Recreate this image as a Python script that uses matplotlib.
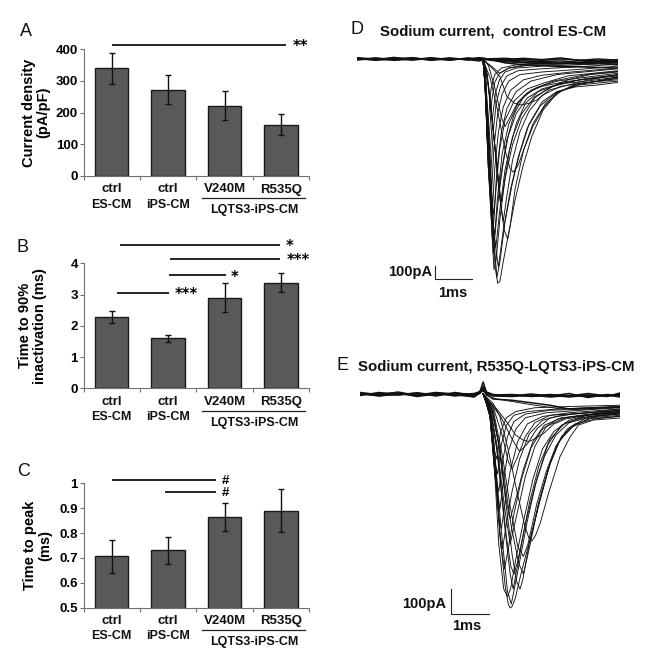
import matplotlib
matplotlib.use('Agg')
import matplotlib.pyplot as plt
import numpy as np

plt.rcParams['font.family'] = ['Liberation Sans', 'DejaVu Sans']

W, H = 656, 665

# bar panels
groups = ['ctrl', 'ctrl', 'V240M', 'R535Q']
subgroups = ['ES-CM', 'iPS-CM']
group_title = 'LQTS3-iPS-CM'

density = [340, 273, 222, 162]
density_err = [49, 47, 46, 33]
density_ticks = [0, 100, 200, 300, 400]
density_sig = [(0, 3.09, 414.6, '**', 3.34)]

inact = [2.28, 1.6, 2.9, 3.38]
inact_err = [0.2, 0.12, 0.46, 0.3]
inact_ticks = [0, 1, 2, 3, 4]
inact_sig = [(0.15, 2.98, 4.59, '*', 3.16),
             (1.03, 2.98, 4.14, '***', 3.3),
             (1.02, 2.03, 3.62, '*', 2.17),
             (0.09, 1.02, 3.06, '***', 1.32)]

peak = [0.707, 0.73, 0.863, 0.89]
peak_err = [0.066, 0.056, 0.056, 0.087]
peak_ticks = [0.5, 0.6, 0.7, 0.8, 0.9, 1]
peak_sig = [(0, 1.85, 1.012, '#', 2.02),
            (0.94, 1.85, 0.965, '#', 2.02)]

d_base_t = [0, 0.5, 1, 1.5, 2, 2.5, 3, 3.3, 3.45, 4, 4.5, 5, 5.5, 6, 6.5, 7.05]
d_base = [[10, -5, 12, -8, 5, -10, 8, -5, 0, 5, -5, -10, 0, -8, -15, -5],
          [-8, 5, -10, 6, -5, 8, -8, 6, 0, -10, -15, -20, -15, -25, -15, -20],
          [4, -10, 0, 10, -10, 2, -5, -15, -5, -20, -30, -35, -30, -40, -35, -45],
          [-4, 8, -5, -6, 10, -6, 4, 0, 0, -5, 5, -5, 8, -12, 0, -10],
          [0, -4, 6, 2, -6, 4, 0, 10, 5, -30, -45, -50, -60, -60, -65, -70],
          [6, 0, -6, 4, 0, -4, 2, 4, 0, -15, -25, -25, -35, -30, -30, -30]]
d_sweeps = [
    [(3.40, 0), (3.46, -100), (3.55, -600), (3.65, -1200), (3.73, -1600), (3.80, -1725), (3.86, -1710), (3.95, -1560), (4.07, -1380), (4.27, -1085), (4.48, -828), (4.72, -597), (5.03, -392), (5.40, -264), (5.84, -200), (6.38, -175), (7.05, -146)],
    [(3.40, 0), (3.48, -150), (3.58, -700), (3.70, -1400), (3.78, -1680), (3.86, -1560), (4.0, -1250), (4.2, -950), (4.4, -720), (4.65, -500), (5.0, -330), (5.4, -250), (5.9, -215), (6.5, -200), (7.05, -180)],
    [(3.40, 0), (3.47, -150), (3.56, -700), (3.64, -1300), (3.70, -1620), (3.76, -1540), (3.86, -1230), (4.0, -920), (4.2, -660), (4.45, -460), (4.8, -300), (5.2, -220), (5.7, -160), (6.3, -120), (7.05, -100)],
    [(3.40, 0), (3.46, -200), (3.55, -800), (3.68, -1500), (3.76, -1250), (3.88, -900), (4.05, -620), (4.3, -420), (4.6, -300), (5.0, -230), (5.5, -190), (6.2, -150), (7.05, -120)],
    [(3.40, 0), (3.46, -200), (3.55, -850), (3.66, -1400), (3.74, -1050), (3.85, -700), (4.0, -470), (4.25, -320), (4.6, -230), (5.1, -180), (5.7, -130), (7.05, -90)],
    [(3.40, 0), (3.46, -200), (3.55, -850), (3.64, -1250), (3.72, -850), (3.82, -560), (3.95, -370), (4.15, -240), (4.5, -160), (5.0, -125), (5.8, -100), (7.05, -70)],
    [(3.40, 0), (3.46, -200), (3.54, -800), (3.62, -1100), (3.70, -680), (3.8, -420), (3.92, -270), (4.1, -170), (4.4, -120), (5.0, -100), (6.0, -80), (7.05, -55)],
    [(3.40, 0), (3.46, -200), (3.53, -700), (3.60, -950), (3.68, -560), (3.76, -340), (3.88, -210), (4.05, -130), (4.35, -90), (5.0, -75), (6.0, -60), (7.05, -40)],
    [(3.40, 0), (3.45, -180), (3.52, -600), (3.58, -800), (3.66, -450), (3.74, -260), (3.85, -160), (4.0, -100), (4.3, -70), (5.0, -55), (6.0, -45), (7.05, -30)],
    [(3.40, 0), (3.45, -170), (3.51, -500), (3.56, -650), (3.64, -320), (3.72, -180), (3.85, -110), (4.1, -70), (4.6, -50), (5.5, -40), (7.05, -25)],
    [(3.40, 0), (3.45, -150), (3.50, -400), (3.54, -500), (3.62, -230), (3.72, -120), (3.9, -70), (4.3, -45), (5.0, -35), (7.05, -15)],
    [(3.40, 0), (3.6, -150), (3.8, -400), (4.0, -700), (4.13, -840), (4.22, -870), (4.35, -820), (4.5, -700), (4.75, -520), (5.05, -370), (5.4, -260), (5.9, -200), (6.5, -170), (7.05, -135)],
    [(3.40, 0), (3.55, -40), (3.86, -136), (4.05, -290), (4.25, -340), (4.45, -354), (4.65, -340), (4.86, -315), (5.2, -238), (5.65, -205), (6.2, -165), (7.05, -120)],
    [(3.40, 0), (3.55, -200), (3.7, -600), (3.85, -1050), (3.98, -1320), (4.07, -1385), (4.14, -1280), (4.27, -1000), (4.5, -700), (4.75, -500), (5.1, -340), (5.5, -250), (6.0, -190), (7.05, -150)],
    [(3.40, 0), (3.5, -100), (3.65, -450), (3.8, -900), (3.9, -1100), (3.98, -950), (4.12, -700), (4.3, -500), (4.55, -340), (4.9, -250), (5.5, -190), (6.2, -170), (7.05, -140)],
    [(3.40, 0), (3.5, -100), (3.65, -480), (3.85, -1000), (3.95, -800), (4.1, -570), (4.25, -420), (4.5, -290), (4.85, -220), (5.4, -170), (6.2, -140), (7.05, -110)],
    [(3.40, 0), (3.52, -120), (3.7, -600), (3.85, -1050), (3.95, -1250), (4.05, -1050), (4.2, -780), (4.4, -560), (4.65, -400), (5.0, -280), (5.5, -210), (6.2, -180), (7.05, -160)],
    [(3.40, 0), (3.5, -30), (3.65, -60), (3.85, -110), (4.1, -70), (4.6, -40), (7.05, -20)],
    [(3.40, 0), (3.47, -150), (3.58, -750), (3.68, -1300), (3.75, -1450), (3.85, -1180), (4.0, -850), (4.2, -600), (4.45, -420), (4.8, -290), (5.3, -210), (6.0, -160), (7.05, -130)],
    [(3.40, 0), (3.47, -120), (3.58, -700), (3.70, -1350), (3.82, -1600), (3.95, -1320), (4.15, -1000), (4.35, -760), (4.6, -530), (4.95, -360), (5.4, -255), (6.0, -200), (7.05, -170)],
    [(3.40, 0), (3.46, -180), (3.56, -800), (3.66, -1250), (3.72, -1350), (3.8, -1050), (3.92, -730), (4.1, -500), (4.35, -340), (4.7, -240), (5.3, -170), (6.2, -120), (7.05, -95)],
    [(3.40, 0), (3.46, -180), (3.56, -750), (3.65, -1100), (3.70, -1200), (3.78, -850), (3.9, -560), (4.05, -380), (4.3, -250), (4.7, -170), (5.4, -120), (7.05, -75)],
    [(3.40, 0), (3.55, -50), (3.75, -250), (3.9, -450), (4.0, -520), (4.15, -440), (4.35, -330), (4.6, -260), (5.0, -210), (5.6, -175), (6.4, -150), (7.05, -125)],
]

e_base_t = [0, 0.5, 1, 1.5, 2, 2.5, 3, 3.15, 3.24, 3.33, 3.5, 4, 4.5, 5, 5.5, 6, 6.5, 6.84]
e_base = [[6, -4, 8, -6, 4, -8, 2, 8, 20, 5, -8, -10, -4, -12, -6, -10, -4, -12],
          [-6, 6, -4, 4, -8, 6, -6, 6, 48, 4, -4, -2, -10, -4, -12, -4, -10, 4],
          [2, -8, 0, -4, 6, 0, -12, 4, 30, 8, -2, -8, 0, -8, 2, -14, -2, -6],
          [-2, 2, 4, -10, 0, -4, -10, 12, 15, 0, -6, -4, -8, -2, -8, 2, -8, -2],
          [0, -6, -2, 4, -4, 2, 0, 2, 25, -2, -20, -25, -35, -45, -60, -58, -55, -52],
          [3, 0, -3, 2, 0, -2, -4, 5, 12, 2, -4, -6, -6, -6, -6, -6, -6, -6]]
e_sweeps = [
    [(3.24, 0), (3.30, -30), (3.42, -60), (3.55, -240), (3.68, -560), (3.82, -770), (3.90, -840), (3.95, -856), (4.00, -850), (4.08, -820), (4.25, -710), (4.47, -585), (4.74, -424), (5.0, -277), (5.26, -184), (5.6, -131), (6.14, -90), (6.84, -76)],
    [(3.24, 0), (3.30, -20), (3.4, -60), (3.52, -250), (3.65, -600), (3.78, -780), (3.88, -810), (3.96, -780), (4.1, -660), (4.3, -510), (4.55, -340), (4.8, -220), (5.1, -150), (5.5, -105), (6.1, -80), (6.84, -65)],
    [(3.24, 0), (3.45, -50), (3.65, -200), (3.85, -450), (4.0, -640), (4.12, -750), (4.21, -780), (4.28, -745), (4.45, -600), (4.7, -435), (4.95, -300), (5.2, -200), (5.55, -130), (6.1, -95), (6.84, -85)],
    [(3.24, 0), (3.5, -37), (3.68, -90), (3.9, -224), (4.12, -384), (4.34, -530), (4.44, -575), (4.52, -588), (4.62, -565), (4.74, -517), (4.96, -397), (5.26, -251), (5.53, -171), (5.75, -124), (6.14, -104), (6.84, -96)],
    [(3.24, 0), (3.4, -30), (3.6, -60), (3.85, -110), (4.1, -165), (4.3, -185), (4.43, -190), (4.6, -180), (4.85, -155), (5.1, -120), (5.4, -100), (6.0, -85), (6.84, -75)],
    [(3.24, 0), (3.4, -10), (3.6, -20), (4.0, -30), (4.6, -45), (5.3, -60), (6.0, -55), (6.84, -50)],
    [(3.24, 0), (3.30, -25), (3.42, -70), (3.55, -280), (3.7, -600), (3.8, -700), (3.9, -620), (4.05, -480), (4.25, -340), (4.5, -215), (4.8, -140), (5.2, -100), (5.8, -85), (6.84, -70)],
    [(3.24, 0), (3.30, -25), (3.42, -70), (3.55, -300), (3.68, -560), (3.75, -620), (3.85, -520), (4.0, -390), (4.2, -260), (4.45, -160), (4.8, -105), (5.3, -85), (6.0, -75), (6.84, -65)],
    [(3.24, 0), (3.30, -25), (3.42, -80), (3.55, -320), (3.66, -500), (3.72, -540), (3.82, -430), (3.95, -310), (4.15, -190), (4.4, -120), (4.8, -90), (5.5, -75), (6.84, -60)],
    [(3.24, 0), (3.30, -25), (3.42, -90), (3.55, -330), (3.68, -460), (3.78, -340), (3.9, -230), (4.1, -140), (4.35, -95), (4.9, -75), (5.8, -65), (6.84, -55)],
    [(3.24, 0), (3.30, -25), (3.42, -90), (3.55, -320), (3.65, -390), (3.75, -270), (3.88, -170), (4.05, -110), (4.35, -80), (5.0, -65), (6.0, -60), (6.84, -52)],
    [(3.24, 0), (3.30, -25), (3.42, -90), (3.52, -260), (3.62, -320), (3.72, -200), (3.85, -125), (4.05, -85), (4.4, -70), (5.2, -60), (6.84, -50)],
    [(3.24, 0), (3.30, -25), (3.42, -90), (3.52, -220), (3.6, -260), (3.7, -150), (3.85, -95), (4.1, -70), (4.6, -55), (5.5, -50), (6.84, -45)],
    [(3.24, 0), (3.5, -60), (3.75, -250), (3.95, -450), (4.15, -610), (4.3, -650), (4.42, -600), (4.65, -440), (4.9, -310), (5.15, -210), (5.45, -140), (5.9, -100), (6.84, -90)],
    [(3.24, 0), (3.45, -60), (3.65, -280), (3.85, -570), (3.97, -690), (4.05, -720), (4.15, -670), (4.35, -520), (4.6, -370), (4.85, -250), (5.15, -165), (5.5, -115), (6.1, -90), (6.84, -80)],
    [(3.24, 0), (3.45, -50), (3.65, -200), (3.85, -430), (3.95, -500), (4.1, -420), (4.3, -300), (4.55, -190), (4.85, -125), (5.3, -95), (6.0, -85), (6.84, -72)],
    [(3.24, 0), (3.5, -50), (3.75, -170), (3.9, -270), (4.0, -300), (4.15, -250), (4.35, -170), (4.6, -115), (5.0, -85), (6.0, -75), (6.84, -60)],
    [(3.24, 0), (3.42, -60), (3.6, -220), (3.8, -520), (3.95, -720), (4.03, -780), (4.2, -640), (4.45, -440), (4.7, -290), (5.0, -180), (5.4, -115), (6.0, -90), (6.84, -75)],
    [(3.24, 0), (3.42, -60), (3.6, -200), (3.8, -450), (3.95, -600), (4.1, -500), (4.35, -330), (4.6, -210), (4.9, -130), (5.4, -95), (6.0, -82), (6.84, -70)],
    [(3.24, 0), (3.36, -40), (3.5, -150), (3.7, -520), (3.88, -790), (3.98, -840), (4.15, -710), (4.4, -510), (4.65, -340), (4.95, -200), (5.3, -125), (5.8, -95), (6.84, -80)],
    [(3.24, 0), (3.5, -70), (3.75, -290), (3.98, -530), (4.18, -680), (4.3, -720), (4.45, -620), (4.7, -440), (5.0, -280), (5.3, -170), (5.65, -120), (6.2, -100), (6.84, -88)],
    [(3.24, 0), (3.45, -40), (3.7, -90), (4.0, -180), (4.2, -230), (4.4, -200), (4.65, -140), (5.0, -95), (5.6, -80), (6.84, -66)],
]


def px_axes(fig, left, top, right, bottom):
    return fig.add_axes([left / W, 1 - bottom / H, (right - left) / W, (bottom - top) / H])


def px_text(fig, x, y, s, **kw):
    fig.text(x / W, 1 - y / H, s, va='center', **kw)


def bar_panel(fig, box, values, errs, ticks, ylim, ylabel, sig, label_x):
    ax = px_axes(fig, *box)
    x = np.arange(len(values))
    ax.bar(x, values, 0.59, color='#595959', edgecolor='#1a1a1a', linewidth=1.0,
           yerr=errs, error_kw=dict(ecolor='#111111', elinewidth=1.0, capsize=2, capthick=1.0, clip_on=False))
    ax.set_xlim(-0.5, 3.5)
    ax.set_ylim(*ylim)
    ax.spines['top'].set_visible(False)
    ax.spines['right'].set_visible(False)
    ax.spines['left'].set_color('#707070')
    ax.spines['bottom'].set_color('#707070')
    ax.set_xticks([-0.5, 0.5, 1.5, 2.5, 3.5])
    ax.set_xticklabels([])
    ax.set_yticks(ticks)
    ax.set_yticklabels([f'{t:g}' for t in ticks], fontsize=9.5, fontweight='bold')
    ax.tick_params(axis='both', length=3, width=0.8, color='#707070', pad=1)
    ax.set_ylabel(ylabel, fontsize=10.5, fontweight='bold', linespacing=1.05, multialignment='center')
    ax.yaxis.set_label_coords(label_x, 0.5)

    tr = ax.get_xaxis_transform()
    for i, g in enumerate(groups):
        ax.annotate(g, (i, 0), xycoords=tr, xytext=(0, -13.5), textcoords='offset pixels',
                    ha='center', va='center', fontsize=9.5, fontweight='bold', color='#111111')
    for i, g in enumerate(subgroups):
        ax.annotate(g, (i, 0), xycoords=tr, xytext=(0, -28.5), textcoords='offset pixels',
                    ha='center', va='center', fontsize=9, fontweight='bold', color='#111111')
    ax.annotate(group_title, (2.52, 0), xycoords=tr, xytext=(0, -34.5), textcoords='offset pixels',
                ha='center', va='center', fontsize=9, fontweight='bold', color='#111111')
    height = box[3] - box[1]
    ax.plot([1.6, 3.43], [-22.2 / height] * 2, transform=tr, color='#222222', lw=0.9, clip_on=False)

    for x0, x1, y, mark, mark_x in sig:
        ax.plot([x0, x1], [y, y], color='black', lw=1.2, clip_on=False, solid_capstyle='butt')
        if mark == '#':
            ax.annotate(mark, (mark_x, y), ha='center', va='center', xytext=(0, -1), textcoords='offset pixels',
                        fontsize=9.5, fontweight='bold', annotation_clip=False)
        else:
            ax.annotate(mark, (mark_x, y), ha='center', va='center', xytext=(0, -2), textcoords='offset pixels',
                        fontsize=10.5, fontweight='bold', family='DejaVu Sans', annotation_clip=False)
    return ax


def trace_panel(fig, box, tlim, ilim, base_t, base, sweeps, bar_t, bar_i):
    ax = px_axes(fig, *box)
    ax.axis('off')
    ax.set_xlim(*tlim)
    ax.set_ylim(*ilim)
    for b in base:
        ax.plot(base_t, b, color='#111111', lw=1.1)
    for s in sweeps:
        t, i = zip(*s)
        ax.plot(t, i, color='#111111', lw=0.65)
    # scale bar, 100 pA and 1 ms
    ax.plot([bar_t, bar_t, bar_t + 1], [bar_i + 100, bar_i, bar_i], color='#222222', lw=0.8, clip_on=False)
    return ax


fig = plt.figure(figsize=(W / 100, H / 100), dpi=100)

bar_panel(fig, (83.5, 49.3, 309.1, 176), density, density_err, density_ticks, (0, 400),
          'Current density\n(pA/pF)', density_sig, -0.148)
bar_panel(fig, (83.5, 263.3, 309.1, 388.3), inact, inact_err, inact_ticks, (0, 4),
          'Time to 90%\ninactivation (ms)', inact_sig, -0.162)
bar_panel(fig, (83.5, 483.3, 309.1, 607.7), peak, peak_err, peak_ticks, (0.5, 1),
          'Time to peak\n(ms)', peak_sig, -0.14)

trace_panel(fig, (357, 40, 618, 300), (0, 7.05), (-1854, 146), d_base_t, d_base, d_sweeps, 2.1, -1695)
trace_panel(fig, (360, 375, 620, 625), (0, 6.84), (-924, 76), e_base_t, e_base, e_sweeps, 2.39, -881)

for x, y, s in [(20, 31, 'A'), (17, 248, 'B'), (17, 471, 'C'), (350, 30, 'D'), (337, 366, 'E')]:
    px_text(fig, x, y, s, fontsize=13, color='#111111')

px_text(fig, 380, 31, 'Sodium current,  control ES-CM', fontsize=10.8, fontweight='bold', color='#111111')
px_text(fig, 358, 367, 'Sodium current, R535Q-LQTS3-iPS-CM', fontsize=10.8, fontweight='bold', color='#111111')

px_text(fig, 432, 272, '100pA', ha='right', fontsize=10.5, fontweight='bold', color='#111111')
px_text(fig, 452.7, 293, '1ms', ha='center', fontsize=10.5, fontweight='bold', color='#111111')
px_text(fig, 446, 604, '100pA', ha='right', fontsize=10.5, fontweight='bold', color='#111111')
px_text(fig, 466.7, 626, '1ms', ha='center', fontsize=10.5, fontweight='bold', color='#111111')

plt.savefig('out.png', dpi=100)
